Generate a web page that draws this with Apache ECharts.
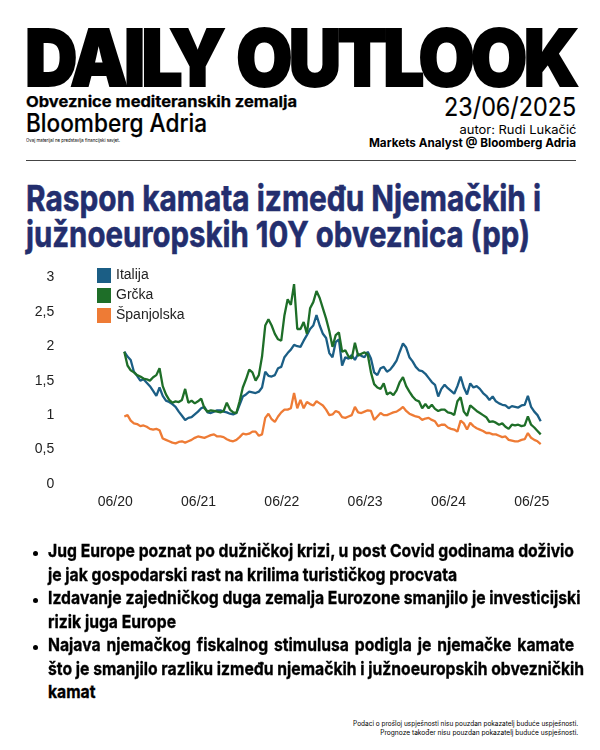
<!DOCTYPE html>
<html><head><meta charset="utf-8">
<script src="https://cdn.jsdelivr.net/npm/echarts@6/dist/echarts.min.js"></script>
<style>
html,body{margin:0;padding:0;background:#fff;}
#page{position:relative;width:600px;height:750px;overflow:hidden;font-family:Inter,"Liberation Sans",sans-serif;color:#000;}
.t{position:absolute;white-space:nowrap;line-height:1;}
.l{transform-origin:0 0;}
.r{transform-origin:100% 0;}
#chart{position:absolute;left:0;top:250px;width:600px;height:300px;}
.dot{position:absolute;left:32.5px;width:5px;height:5px;border-radius:2.5px;background:#000;}
.bl{-webkit-text-stroke:0.35px #000;}
</style></head><body>
<div id="page">
 <div class="t l fit" data-w="550" style="left:25px;top:18.6px;font-size:78px;font-weight:900;letter-spacing:-4px;word-spacing:4px;-webkit-text-stroke:2px #000;">DAILY OUTLOOK</div>
 <div class="t l fit" data-w="271" style="left:26px;top:94px;font-size:15px;font-weight:700;-webkit-text-stroke:0.25px #000;">Obveznice mediteranskih zemalja</div>
 <div class="t l fit" data-w="181" style="left:26px;top:111px;font-size:25px;font-weight:500;-webkit-text-stroke:0.2px #000;">Bloomberg Adria</div>
 <div class="t l fit" data-w="94" style="left:26px;top:138px;font-size:5px;">Ovaj materijal ne predstavlja financijski savjet.</div>
 <div class="t r fitr" data-w="132" style="right:24px;top:93.5px;font-size:26px;font-weight:400;-webkit-text-stroke:0.2px #000;">23/06/2025</div>
 <div class="t r fitr" data-w="117" style="right:24px;top:124px;font-size:12px;font-weight:400;">autor: Rudi Lukačić</div>
 <div class="t r fitr" data-w="207" style="right:24px;top:137px;font-size:12px;font-weight:700;">Markets Analyst @ Bloomberg Adria</div>
 <div style="position:absolute;left:26px;top:160px;width:550px;height:1px;background:#444;"></div>
 <div class="t l fit" data-w="515" style="left:26px;top:180px;font-size:36px;font-weight:700;color:#232e6e;-webkit-text-stroke:0.6px #232e6e;">Raspon kamata između Njemačkih i</div>
 <div class="t l fit" data-w="504" style="left:26px;top:216px;font-size:36px;font-weight:700;color:#232e6e;-webkit-text-stroke:0.6px #232e6e;">južnoeuropskih 10Y obveznica (pp)</div>
 <div id="chart"></div>
 <div class="dot" style="top:551px"></div>
 <div class="dot" style="top:598px"></div>
 <div class="dot" style="top:645px"></div>
 <div class="t l bl" data-j="1" style="left:48px;top:542.4px;font-size:18px;font-weight:700;">Jug Europe poznat po dužničkoj krizi, u post Covid godinama doživio</div>
 <div class="t l bl" data-j="0" style="left:48px;top:566.4px;font-size:18px;font-weight:700;">je jak gospodarski rast na krilima turističkog procvata</div>
 <div class="t l bl" data-j="1" style="left:48px;top:589.4px;font-size:18px;font-weight:700;">Izdavanje zajedničkog duga zemalja Eurozone smanjilo je investicijski</div>
 <div class="t l bl" data-j="0" style="left:48px;top:613.4px;font-size:18px;font-weight:700;">rizik juga Europe</div>
 <div class="t l bl" data-j="1" style="left:48px;top:636.4px;font-size:18px;font-weight:700;">Najava njemačkog fiskalnog stimulusa podigla je njemačke kamate</div>
 <div class="t l bl" data-j="1" style="left:48px;top:660.4px;font-size:18px;font-weight:700;">što je smanjilo razliku između njemačkih i južnoeuropskih obvezničkih</div>
 <div class="t l bl" data-j="0" style="left:48px;top:683.4px;font-size:18px;font-weight:700;">kamat</div>
 <div class="t r fitr" data-w="225" style="right:22px;top:719.5px;font-size:7px;">Podaci o prošloj uspješnosti nisu pouzdan pokazatelj buduće uspješnosti.</div>
 <div class="t r fitr" data-w="198" style="right:22px;top:728.5px;font-size:7px;">Prognoze također nisu pouzdan pokazatelj buduće uspješnosti.</div>
</div>
<script>
// ---- data (biweekly observations from 23/06/2020) ----
const startDate = [2020, 5, 23];
const stepDays = 14;
const seriesNames = ['Italija', 'Grčka', 'Španjolska'];
const seriesColors = ['#1b5e85', '#1e6e28', '#ee7b35'];
const xTickLabels = ['06/20', '06/21', '06/22', '06/23', '06/24', '06/25'];
const yTickLabels = ['0', '0,5', '1', '1,5', '2', '2,5', '3'];

const italija = [
1.92,1.85,1.80,1.63,1.57,1.50,1.52,1.47,1.42,1.35,
1.28,1.40,1.28,1.21,1.19,1.16,1.12,1.05,0.99,0.93,
0.96,0.97,1.01,1.05,1.10,1.12,1.04,1.03,1.05,1.07,
1.07,1.05,1.04,1.02,1.01,1.03,1.15,1.27,1.30,1.34,
1.33,1.32,1.34,1.40,1.63,1.57,1.56,1.58,1.68,1.70,
1.84,1.90,1.95,2.02,2.00,1.99,2.08,2.16,2.25,2.30,
2.45,2.30,2.18,2.12,1.90,1.84,2.06,2.10,1.72,1.84,
1.82,1.87,1.80,1.89,1.86,1.84,1.92,1.82,1.62,1.58,
1.68,1.70,1.63,1.66,1.72,1.79,1.92,2.04,1.98,1.84,
1.78,1.70,1.65,1.64,1.60,1.54,1.48,1.44,1.27,1.38,
1.44,1.39,1.35,1.31,1.42,1.56,1.40,1.30,1.46,1.40,
1.42,1.38,1.32,1.28,1.22,1.27,1.20,1.17,1.15,1.14,
1.10,1.13,1.12,1.11,1.14,1.15,1.28,1.12,1.05,1.00,
0.91];
const grcka = [
1.92,1.72,1.65,1.62,1.58,1.56,1.53,1.52,1.50,1.55,
1.58,1.68,1.42,1.30,1.22,1.18,1.20,1.19,1.22,1.38,
1.18,1.21,1.17,1.20,1.24,1.10,1.05,1.07,1.06,1.05,
1.04,1.06,1.18,1.08,1.04,1.03,1.20,1.40,1.52,1.66,
1.62,1.50,1.58,1.85,2.30,2.39,2.30,2.18,2.10,2.08,
2.45,2.68,2.60,2.90,2.25,2.25,2.35,2.18,2.55,2.64,
2.80,2.70,2.55,2.40,2.22,1.99,2.16,2.20,1.92,1.94,
1.85,1.82,2.05,1.86,1.89,1.91,1.88,1.62,1.45,1.40,
1.38,1.46,1.30,1.33,1.29,1.36,1.48,1.55,1.42,1.34,
1.27,1.22,1.20,1.10,1.16,1.10,1.15,1.09,1.06,1.08,
1.08,1.04,1.03,1.00,1.20,1.26,1.05,0.99,1.14,1.10,
1.06,1.03,1.00,0.97,0.90,0.91,0.89,0.86,0.88,0.83,
0.80,0.86,0.85,0.86,0.84,0.85,0.98,0.86,0.82,0.77,
0.72];
const spanjolska = [
0.98,1.00,0.92,0.88,0.87,0.84,0.85,0.83,0.80,0.79,
0.80,0.78,0.66,0.64,0.62,0.60,0.59,0.61,0.62,0.60,
0.62,0.64,0.67,0.69,0.68,0.67,0.69,0.71,0.72,0.69,
0.69,0.68,0.65,0.63,0.62,0.64,0.68,0.73,0.72,0.73,
0.76,0.76,0.70,0.72,0.96,1.02,0.94,0.90,0.98,1.04,
1.08,1.08,1.10,1.32,1.10,1.22,1.10,1.19,1.16,1.14,
1.20,1.17,1.14,1.08,1.00,1.01,1.06,1.04,0.97,0.96,
0.98,1.00,1.12,1.04,1.03,1.05,1.07,1.06,0.93,0.98,
1.03,1.00,1.00,1.02,1.04,1.05,1.08,1.12,1.06,1.02,
1.00,0.98,0.97,0.93,0.95,0.96,0.93,0.91,0.84,0.86,
0.86,0.82,0.80,0.79,0.76,0.92,0.88,0.79,0.89,0.84,
0.81,0.79,0.77,0.74,0.74,0.72,0.72,0.70,0.68,0.69,
0.64,0.63,0.62,0.62,0.64,0.65,0.74,0.67,0.64,0.62,
0.58];

const dates = italija.map((_, i) => {
  const d = new Date(Date.UTC(startDate[0], startDate[1], startDate[2]) + i * stepDays * 86400000);
  return d.toISOString().slice(0, 10);
});
const ticksEvery = 26;

// ---- text fitting ----
document.querySelectorAll('.fit,.fitr').forEach(el => {
  const w = el.getBoundingClientRect().width;
  const s = (+el.dataset.w) / w;
  el.style.transform = 'scaleX(' + s + ')';
});
(function(){
  const lines = Array.from(document.querySelectorAll('.bl'));
  const w0 = lines[0].getBoundingClientRect().width;
  const target = 526;
  const s = target / w0;
  const W = target / s;
  lines.forEach(el => {
    if (el.dataset.j === '1') {
      el.style.width = W + 'px';
      el.style.textAlign = 'justify';
      el.style.textAlignLast = 'justify';
    }
    el.style.transform = 'scaleX(' + s + ')';
  });
})();

// ---- chart ----
const chart = echarts.init(document.getElementById('chart'), null, {renderer: 'canvas'});
const font = '"Liberation Sans", Arial, sans-serif';
chart.setOption({
  animation: false,
  grid: {left: 124.3, right: 59.3, top: 27.3, bottom: 66, containLabel: false},
  legend: {
    data: seriesNames, orient: 'vertical', left: 97, top: 18, padding: 0,
    itemWidth: 14, itemHeight: 15, itemGap: 5, icon: 'rect',
    textStyle: {fontSize: 14, color: '#222', fontFamily: font}
  },
  xAxis: {
    type: 'category', data: dates, boundaryGap: false,
    axisLine: {show: false}, axisTick: {show: false}, splitLine: {show: false},
    axisLabel: {
      interval: (idx) => idx % ticksEvery === 0,
      formatter: (v, idx) => xTickLabels[Math.round(idx / ticksEvery)] || '',
      fontSize: 14, color: '#222', fontFamily: font, margin: 11, padding: [0, 18, 0, 0]
    }
  },
  yAxis: {
    type: 'value', min: 0, max: 3, interval: 0.5,
    axisLine: {show: false}, axisTick: {show: false}, splitLine: {show: false},
    axisLabel: {
      formatter: (v) => yTickLabels[Math.round(v * 2)],
      fontSize: 14, color: '#222', fontFamily: font, margin: 70
    }
  },
  series: [italija, grcka, spanjolska].map((d, k) => ({
    name: seriesNames[k], type: 'line', data: d, showSymbol: false, symbol: 'none',
    color: seriesColors[k],
    lineStyle: {width: 2.3, color: seriesColors[k]}
  }))
});
</script>
</body></html>
